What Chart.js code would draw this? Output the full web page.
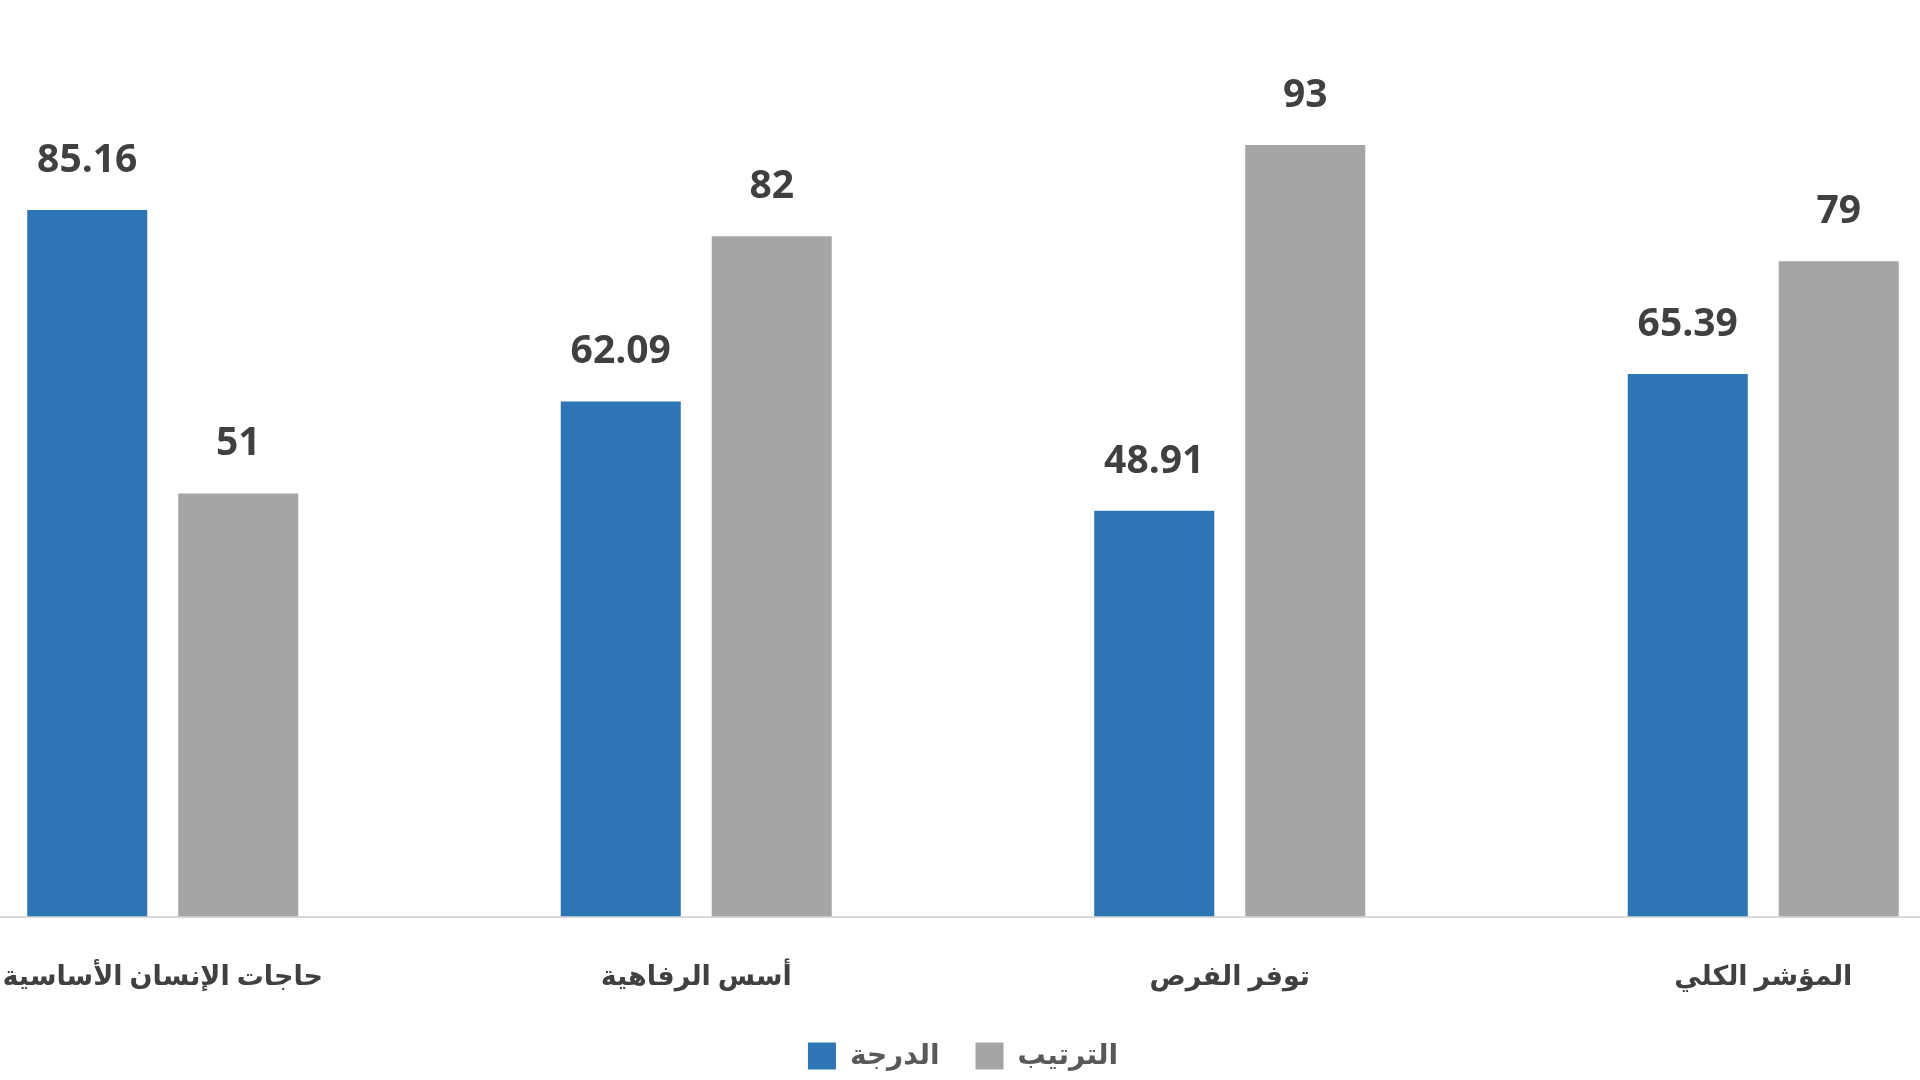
<!DOCTYPE html>
<html lang="ar">
<head>
<meta charset="utf-8">
<script src="https://cdn.jsdelivr.net/npm/chart.js@4.4.1/dist/chart.umd.min.js"></script>
<style>
  html, body { margin: 0; padding: 0; width: 1920px; height: 1080px; overflow: hidden; background: #fff; }
  /* the picture is cropped: the plot runs past both edges */
  .wrap { position: absolute; left: -104px; top: 0; width: 2134px; height: 1080px; }
</style>
</head>
<body>
<div class="wrap"><canvas id="myChart"></canvas></div>
<script>
// categories, left to right
var labels = ["حاجات الإنسان الأساسية", "أسس الرفاهية", "توفر الفرص", "المؤشر الكلي"];
var seriesNames = ["الدرجة", "الترتيب"];
// score (blue) and rank (gray)
var scores = [85.16, 62.09, 48.91, 65.39];
var ranks = [51, 82, 93, 79];

var colors = ["#2E75B6", "#A5A5A5"];

// draws the value over each bar, no datalabels plugin here
var valueLabels = {
  id: "valueLabels",
  afterDatasetsDraw: function (chart) {
    var ctx = chart.ctx;
    ctx.save();
    ctx.font = "bold 39px 'Open Sans'";
    ctx.fillStyle = "#404040";
    ctx.textAlign = "center";
    ctx.textBaseline = "alphabetic";
    chart.data.datasets.forEach(function (ds, i) {
      chart.getDatasetMeta(i).data.forEach(function (bar, j) {
        ctx.fillText(String(ds.data[j]), bar.x, bar.y - 38);
      });
    });
    ctx.restore();
  }
};

var chart = document.getElementById("myChart").getContext("2d");
new Chart(chart, {
  type: "bar",
  data: {
    labels: labels,
    datasets: [
      { label: seriesNames[0], data: scores, backgroundColor: colors[0], borderWidth: 0 },
      { label: seriesNames[1], data: ranks, backgroundColor: colors[1], borderWidth: 0 }
    ]
  },
  options: {
    responsive: true,
    maintainAspectRatio: false,
    animation: false,
    layout: { padding: { top: 4, bottom: 0 } },
    categoryPercentage: 0.566,
    barPercentage: 0.795,
    plugins: {
      legend: {
        position: "bottom",
        labels: {
          boxWidth: 28,
          boxHeight: 27,
          padding: 36,
          color: "#595959",
          font: { family: "'Open Sans', 'DejaVu Sans'", size: 28, weight: "bold" }
        }
      },
      tooltip: { enabled: false }
    },
    scales: {
      x: {
        grid: { display: false, drawTicks: false },
        border: { display: true, color: "#D9D9D9", width: 2 },
        ticks: {
          color: "#404040",
          padding: 45,
          font: { family: "'Open Sans', 'DejaVu Sans'", size: 27, weight: "bold" }
        },
        // labels sit close to the legend in the picture
        afterFit: function (scale) {
          scale.height -= 33;
        }
      },
      y: {
        display: false,
        min: 0,
        max: 110
      }
    }
  },
  plugins: [valueLabels]
});
</script>
</body>
</html>
